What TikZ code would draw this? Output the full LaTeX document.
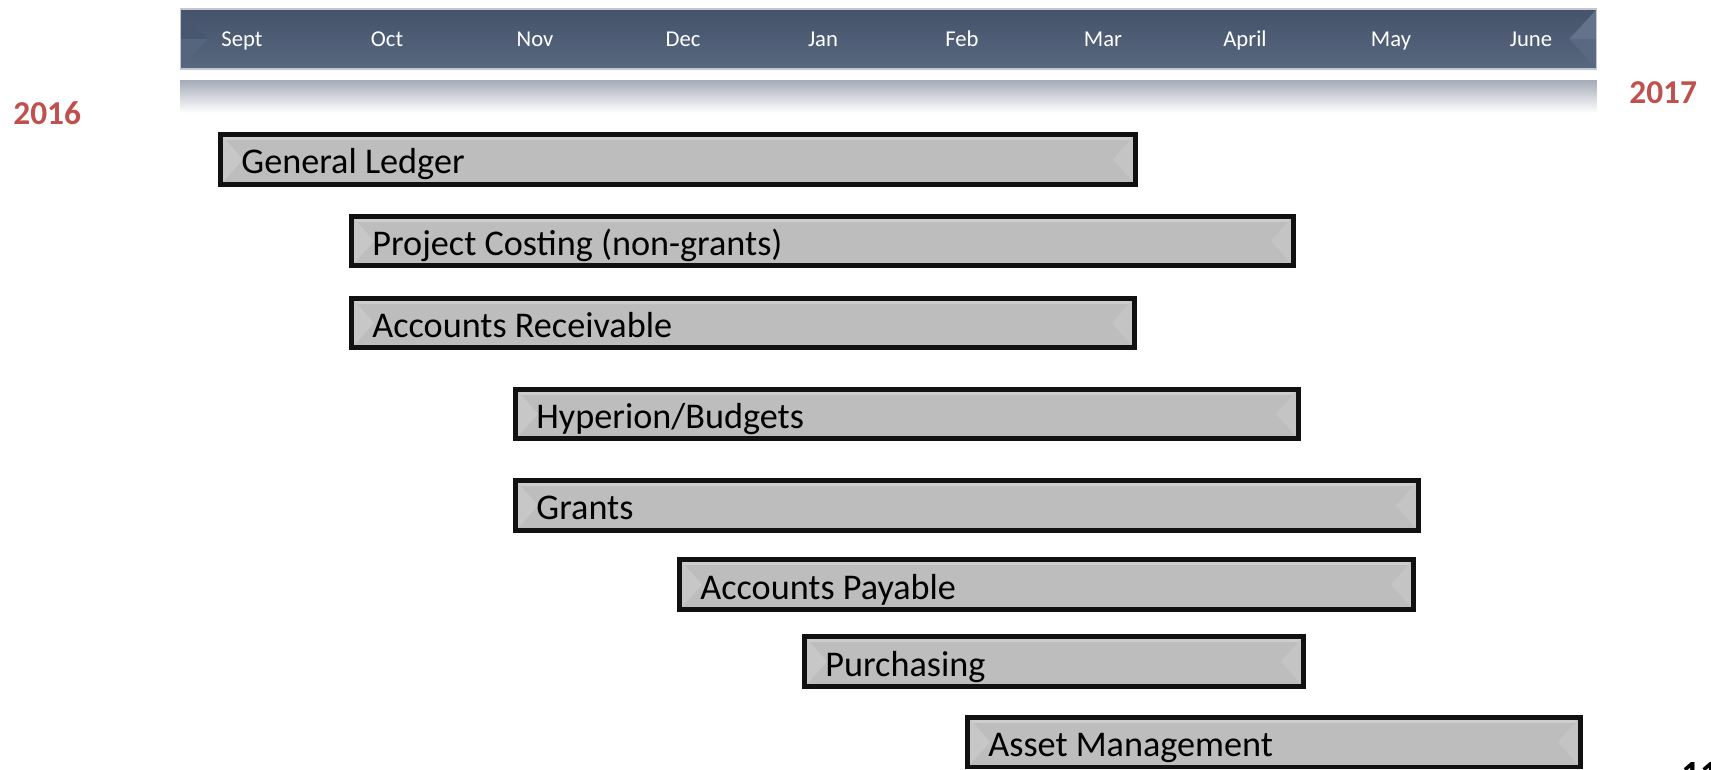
\documentclass[tikz,border=0pt]{standalone}
\usepackage{fontspec}
\setmainfont{Carlito}
\usepackage{tikz}
\usetikzlibrary{calc, positioning}

\definecolor{headertop}{HTML}{44526A}
\definecolor{headerbottom}{HTML}{58687F}
\definecolor{headeredge}{HTML}{C3C8D0}
\definecolor{headerlight}{HTML}{56657E}
\definecolor{headerdark}{HTML}{485670}
\definecolor{headerwedge}{HTML}{64728B}
\definecolor{headerwedgelow}{HTML}{5A6882}
\definecolor{shadowtop}{HTML}{A7AEBA}
\definecolor{baredge}{HTML}{111111}
\definecolor{bargray}{HTML}{BDBDBD}
\definecolor{barlight}{HTML}{C7C7C7}
\definecolor{barmid}{HTML}{C4C4C4}
\definecolor{bartop}{HTML}{CDCDCD}
\definecolor{yearred}{HTML}{C0504D}

\begin{document}
\begin{tikzpicture}[
		x=0.02cm, y=-0.02cm, % one unit is one pixel of the slide
		header/.style={
				draw=headeredge,
				line width=0.6pt,
				top color=headertop,
				bottom color=headerbottom,
				path picture={
						\fill[headerdark] (path picture bounding box.north west) -- (path picture bounding box.west) -- ($(path picture bounding box.west)+(0.55cm,0)$) -- cycle;
						\fill[headerlight] (path picture bounding box.west) -- (path picture bounding box.south west) -- ($(path picture bounding box.west)+(0.55cm,0)$) -- cycle;
						\fill[headerwedge] (path picture bounding box.north east) -- (path picture bounding box.east) -- ($(path picture bounding box.east)+(-0.55cm,0)$) -- cycle;
						\fill[headerwedgelow] (path picture bounding box.east) -- (path picture bounding box.south east) -- ($(path picture bounding box.east)+(-0.55cm,0)$) -- cycle;
					}
			},
		reflection/.style={
				top color=shadowtop,
				bottom color=white,
				inner sep=0
			},
		month/.style={
				text=white,
				font=\fontsize{12.9pt}{15pt}\selectfont,
				inner sep=0,
				anchor=base
			},
		year/.style={
				text=yearred,
				font=\bfseries\fontsize{19pt}{22pt}\selectfont,
				inner sep=0,
				anchor=base west
			},
		bar/.style={
				draw=baredge,
				line width=0.1cm, % thick black frame
				fill=bargray,
				minimum height=1cm,
				inner sep=0,
				path picture={
						\fill[bartop] ($(path picture bounding box.north west)+(0.05cm,-0.05cm)$) rectangle ($(path picture bounding box.north east)+(-0.05cm,-0.11cm)$);
						\fill[barlight] ($(path picture bounding box.north west)+(0.05cm,-0.05cm)$) -- ($(path picture bounding box.south west)+(0.05cm,0.05cm)$) -- ($(path picture bounding box.west)+(0.45cm,0)$) -- cycle;
						\fill[barmid] ($(path picture bounding box.north east)+(-0.05cm,-0.05cm)$) -- ($(path picture bounding box.south east)+(-0.05cm,0.05cm)$) -- ($(path picture bounding box.east)+(-0.45cm,0)$) -- cycle;
					}
			},
		bartext/.style={
				font=\fontsize{20.6pt}{24pt}\selectfont,
				inner sep=0,
				text height=0.68cm, % same box for every label
				text depth=0.1cm
			}
	]
	\useasboundingbox (0,0) rectangle (1711,770);

	% Timeline header
	\node[header, minimum width=28.34cm, minimum height=1.2cm] (timeline_bar) at (888.5,39) {};
	\node[reflection, below=0.22cm of timeline_bar, minimum width=28.34cm, minimum height=0.64cm] (timeline_shadow) {};

	% Months
	\node[month] (sept) at (242,46.5) {Sept};
	\node[month] (oct) at (387,46.5) {Oct};
	\node[month] (nov) at (535,46.5) {Nov};
	\node[month] (dec) at (683,46.5) {Dec};
	\node[month] (jan) at (823,46.5) {Jan};
	\node[month] (feb) at (962,46.5) {Feb};
	\node[month] (mar) at (1103,46.5) {Mar};
	\node[month] (april) at (1245,46.5) {April};
	\node[month] (may) at (1391,46.5) {May};
	\node[month] (june) at (1531,46.5) {June};

	% Years
	\node[year] (year_start) at (13,125) {2016};
	\node[year] (year_end) at (1629,104) {2017};

	% Bars
	\node[bar, minimum width=18.30cm] (general_ledger) at (678,159.5) {};
	\node[bartext, right=0.46cm of general_ledger.west] (general_ledger_text) {General Ledger};

	\node[bar, minimum width=18.84cm] (project_costing) at (822.5,241) {};
	\node[bartext, right=0.46cm of project_costing.west] (project_costing_text) {Project Costing (non-grants)};

	\node[bar, minimum width=15.66cm] (receivable) at (743,323) {};
	\node[bartext, right=0.46cm of receivable.west] (receivable_text) {Accounts Receivable};

	\node[bar, minimum width=15.66cm] (hyperion) at (907,414) {};
	\node[bartext, right=0.46cm of hyperion.west] (hyperion_text) {Hyperion/Budgets};

	\node[bar, minimum width=18.06cm] (grants) at (967,505.5) {};
	\node[bartext, right=0.46cm of grants.west] (grants_text) {Grants};

	\node[bar, minimum width=14.68cm] (payable) at (1046.5,584.5) {};
	\node[bartext, right=0.46cm of payable.west] (payable_text) {Accounts Payable};

	\node[bar, minimum width=9.98cm] (purchasing) at (1054,661.5) {};
	\node[bartext, right=0.46cm of purchasing.west] (purchasing_text) {Purchasing};

	\node[bar, minimum width=12.26cm] (asset_mgmt) at (1274,742) {};
	\node[bartext, right=0.46cm of asset_mgmt.west] (asset_mgmt_text) {Asset Management};

	% Slide number, cut off at the bottom
	\node[anchor=north west, inner sep=0, font=\bfseries\fontsize{21pt}{24pt}\selectfont] (slide_number) at (1681,762) {11};
\end{tikzpicture}
\end{document}
